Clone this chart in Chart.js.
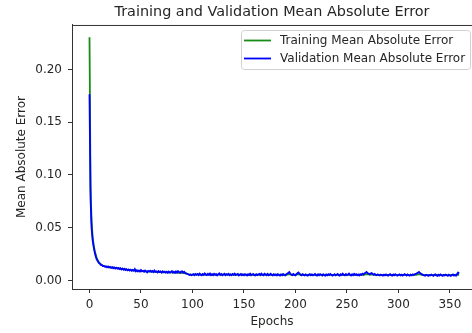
<!DOCTYPE html>
<html>
<head>
<meta charset="utf-8">
<script src="https://cdn.jsdelivr.net/npm/chart.js@4.4.1/dist/chart.umd.min.js"></script>
<style>
  html, body { margin:0; padding:0; background:#fff; }
  #c { display:block; }
</style>
</head>
<body>
<canvas id="c" width="472" height="333"></canvas>
<script>
// --- Données ---
const trainMae = [
  0.2305, 0.0900, 0.0560, 0.0420, 0.0340, 0.0285, 0.0245, 0.0215, 0.0192, 0.0175, 0.0163, 0.0154, 0.0147, 0.0141, 0.0137,
  0.0134, 0.0131, 0.0129, 0.0127, 0.0125, 0.0124, 0.0122, 0.0121, 0.0123, 0.0119, 0.0118, 0.0116, 0.0115, 0.0114, 0.0112,
  0.0111, 0.0109, 0.0108, 0.0107, 0.0105, 0.0104, 0.0103, 0.0101, 0.0100, 0.0099, 0.0098, 0.0097, 0.0096, 0.0095, 0.0094,
  0.0093, 0.0092, 0.0091, 0.0091, 0.0090, 0.0089, 0.0088, 0.0088, 0.0087, 0.0087, 0.0086, 0.0085, 0.0085, 0.0084, 0.0084,
  0.0083, 0.0083, 0.0082, 0.0082, 0.0081, 0.0081, 0.0080, 0.0080, 0.0079, 0.0079, 0.0079, 0.0078, 0.0078, 0.0077, 0.0077,
  0.0077, 0.0076, 0.0076, 0.0076, 0.0075, 0.0079, 0.0075, 0.0075, 0.0074, 0.0074, 0.0074, 0.0073, 0.0073, 0.0073, 0.0072,
  0.0072, 0.0071, 0.0070, 0.0068, 0.0065, 0.0062, 0.0059, 0.0057, 0.0056, 0.0055, 0.0055, 0.0055, 0.0055, 0.0056, 0.0055,
  0.0056, 0.0055, 0.0056, 0.0055, 0.0055, 0.0056, 0.0055, 0.0056, 0.0056, 0.0055, 0.0056, 0.0055, 0.0056, 0.0055, 0.0056,
  0.0055, 0.0056, 0.0055, 0.0056, 0.0055, 0.0055, 0.0056, 0.0055, 0.0055, 0.0056, 0.0055, 0.0055, 0.0054, 0.0055, 0.0055,
  0.0056, 0.0055, 0.0055, 0.0054, 0.0055, 0.0055, 0.0054, 0.0055, 0.0055, 0.0054, 0.0055, 0.0054, 0.0055, 0.0055, 0.0054,
  0.0055, 0.0054, 0.0054, 0.0055, 0.0054, 0.0055, 0.0054, 0.0054, 0.0055, 0.0054, 0.0054, 0.0055, 0.0054, 0.0054, 0.0055,
  0.0054, 0.0054, 0.0055, 0.0054, 0.0054, 0.0055, 0.0054, 0.0054, 0.0054, 0.0055, 0.0054, 0.0054, 0.0053, 0.0054, 0.0054,
  0.0054, 0.0053, 0.0054, 0.0054, 0.0053, 0.0054, 0.0054, 0.0053, 0.0054, 0.0054, 0.0053, 0.0054, 0.0055, 0.0057, 0.0058,
  0.0057, 0.0055, 0.0054, 0.0054, 0.0053, 0.0054, 0.0055, 0.0057, 0.0058, 0.0056, 0.0054, 0.0054, 0.0053, 0.0054, 0.0053,
  0.0054, 0.0053, 0.0053, 0.0054, 0.0053, 0.0053, 0.0054, 0.0053, 0.0053, 0.0054, 0.0053, 0.0053, 0.0054, 0.0053, 0.0053,
  0.0054, 0.0053, 0.0053, 0.0053, 0.0054, 0.0053, 0.0053, 0.0053, 0.0054, 0.0053, 0.0053, 0.0052, 0.0053, 0.0053, 0.0053,
  0.0052, 0.0053, 0.0053, 0.0052, 0.0053, 0.0053, 0.0053, 0.0052, 0.0053, 0.0053, 0.0052, 0.0053, 0.0054, 0.0053, 0.0052,
  0.0053, 0.0053, 0.0052, 0.0053, 0.0053, 0.0052, 0.0053, 0.0053, 0.0052, 0.0053, 0.0053, 0.0054, 0.0055, 0.0057, 0.0059,
  0.0058, 0.0057, 0.0056, 0.0056, 0.0057, 0.0055, 0.0054, 0.0054, 0.0053, 0.0053, 0.0053, 0.0052, 0.0053, 0.0053, 0.0052,
  0.0053, 0.0052, 0.0052, 0.0053, 0.0052, 0.0052, 0.0053, 0.0052, 0.0052, 0.0052, 0.0053, 0.0052, 0.0052, 0.0052, 0.0051,
  0.0052, 0.0052, 0.0052, 0.0051, 0.0052, 0.0052, 0.0052, 0.0051, 0.0052, 0.0052, 0.0051, 0.0052, 0.0052, 0.0051, 0.0052,
  0.0052, 0.0052, 0.0053, 0.0055, 0.0057, 0.0059, 0.0057, 0.0055, 0.0054, 0.0053, 0.0052, 0.0052, 0.0051, 0.0052, 0.0051,
  0.0051, 0.0052, 0.0051, 0.0051, 0.0052, 0.0051, 0.0051, 0.0051, 0.0052, 0.0051, 0.0051, 0.0051, 0.0050, 0.0051, 0.0051,
  0.0051, 0.0050, 0.0051, 0.0051, 0.0050, 0.0051, 0.0051, 0.0050, 0.0051, 0.0050, 0.0051, 0.0050, 0.0052, 0.0055, 0.0054
];
const valMae = [
  0.1765, 0.0780, 0.0500, 0.0385, 0.0320, 0.0270, 0.0230, 0.0200, 0.0184, 0.0166, 0.0160, 0.0148, 0.0146, 0.0136, 0.0138,
  0.0130, 0.0134, 0.0125, 0.0132, 0.0123, 0.0128, 0.0119, 0.0126, 0.0116, 0.0124, 0.0113, 0.0121, 0.0112, 0.0119, 0.0108,
  0.0116, 0.0105, 0.0113, 0.0101, 0.0110, 0.0099, 0.0107, 0.0096, 0.0104, 0.0094, 0.0101, 0.0091, 0.0100, 0.0093, 0.0108,
  0.0088, 0.0097, 0.0086, 0.0095, 0.0084, 0.0099, 0.0087, 0.0092, 0.0083, 0.0094, 0.0086, 0.0076, 0.0091, 0.0085, 0.0093,
  0.0082, 0.0090, 0.0080, 0.0094, 0.0081, 0.0087, 0.0077, 0.0089, 0.0079, 0.0085, 0.0075, 0.0087, 0.0078, 0.0083, 0.0074,
  0.0082, 0.0073, 0.0084, 0.0075, 0.0080, 0.0089, 0.0074, 0.0083, 0.0072, 0.0086, 0.0075, 0.0088, 0.0079, 0.0073, 0.0084,
  0.0087, 0.0074, 0.0082, 0.0070, 0.0068, 0.0061, 0.0059, 0.0052, 0.0056, 0.0049, 0.0054, 0.0060, 0.0050, 0.0061, 0.0053,
  0.0062, 0.0051, 0.0064, 0.0055, 0.0049, 0.0061, 0.0052, 0.0066, 0.0055, 0.0050, 0.0062, 0.0053, 0.0065, 0.0051, 0.0059,
  0.0050, 0.0063, 0.0054, 0.0060, 0.0048, 0.0058, 0.0067, 0.0052, 0.0061, 0.0049, 0.0057, 0.0064, 0.0050, 0.0060, 0.0053,
  0.0062, 0.0050, 0.0058, 0.0049, 0.0061, 0.0053, 0.0064, 0.0051, 0.0057, 0.0062, 0.0048, 0.0055, 0.0061, 0.0050, 0.0058,
  0.0049, 0.0060, 0.0054, 0.0047, 0.0059, 0.0051, 0.0063, 0.0049, 0.0056, 0.0061, 0.0050, 0.0047, 0.0059, 0.0050, 0.0057,
  0.0062, 0.0051, 0.0065, 0.0054, 0.0049, 0.0063, 0.0057, 0.0050, 0.0062, 0.0049, 0.0055, 0.0063, 0.0051, 0.0047, 0.0058,
  0.0050, 0.0057, 0.0048, 0.0059, 0.0052, 0.0046, 0.0057, 0.0050, 0.0061, 0.0051, 0.0047, 0.0058, 0.0063, 0.0071, 0.0079,
  0.0066, 0.0054, 0.0050, 0.0061, 0.0052, 0.0048, 0.0059, 0.0068, 0.0076, 0.0064, 0.0054, 0.0049, 0.0060, 0.0052, 0.0047,
  0.0057, 0.0050, 0.0046, 0.0055, 0.0060, 0.0049, 0.0057, 0.0048, 0.0054, 0.0062, 0.0050, 0.0046, 0.0058, 0.0050, 0.0060,
  0.0053, 0.0047, 0.0058, 0.0050, 0.0045, 0.0056, 0.0049, 0.0059, 0.0051, 0.0061, 0.0053, 0.0046, 0.0051, 0.0059, 0.0048,
  0.0055, 0.0061, 0.0050, 0.0046, 0.0058, 0.0051, 0.0064, 0.0054, 0.0048, 0.0060, 0.0050, 0.0057, 0.0066, 0.0053, 0.0047,
  0.0058, 0.0050, 0.0062, 0.0053, 0.0059, 0.0049, 0.0057, 0.0048, 0.0060, 0.0053, 0.0064, 0.0056, 0.0066, 0.0072, 0.0080,
  0.0071, 0.0065, 0.0058, 0.0066, 0.0070, 0.0061, 0.0055, 0.0062, 0.0053, 0.0049, 0.0058, 0.0052, 0.0047, 0.0056, 0.0050,
  0.0046, 0.0055, 0.0049, 0.0058, 0.0050, 0.0045, 0.0054, 0.0060, 0.0050, 0.0046, 0.0056, 0.0049, 0.0059, 0.0051, 0.0045,
  0.0052, 0.0058, 0.0048, 0.0055, 0.0046, 0.0051, 0.0060, 0.0054, 0.0047, 0.0057, 0.0050, 0.0045, 0.0055, 0.0048, 0.0058,
  0.0051, 0.0060, 0.0062, 0.0069, 0.0074, 0.0081, 0.0070, 0.0064, 0.0057, 0.0053, 0.0048, 0.0045, 0.0054, 0.0049, 0.0044,
  0.0052, 0.0047, 0.0056, 0.0049, 0.0044, 0.0053, 0.0058, 0.0048, 0.0044, 0.0054, 0.0047, 0.0057, 0.0050, 0.0044, 0.0053,
  0.0047, 0.0056, 0.0049, 0.0044, 0.0054, 0.0048, 0.0043, 0.0051, 0.0057, 0.0047, 0.0053, 0.0045, 0.0060, 0.0074, 0.0066
];
const epochs = trainMae.map((_, i) => i);
const xTicks = [0, 50, 100, 150, 200, 250, 300, 350];
const yTicks = [0, 0.05, 0.10, 0.15, 0.20];
const seriesLabels = ['Training Mean Absolute Error', 'Validation Mean Absolute Error'];

const FONT = 'DejaVu Sans';
const TXT = '#262626';

// cadre (haut) + légende dessinés à la main, style matplotlib
const framePlugin = {
  id: 'frame',
  afterDraw(chart) {
    const { ctx, chartArea: a } = chart;
    ctx.save();
    ctx.strokeStyle = '#333';
    ctx.lineWidth = 1;
    ctx.beginPath();
    ctx.moveTo(a.left, a.top + 0.5);
    ctx.lineTo(a.right, a.top + 0.5);
    ctx.stroke();

    // légende
    const lx = 241.5, ly = 30.5, lw = 229, lh = 39, r = 3;
    ctx.fillStyle = 'rgba(255,255,255,0.8)';
    ctx.strokeStyle = '#d0d0d0';
    ctx.beginPath();
    ctx.roundRect(lx, ly, lw, lh, r);
    ctx.fill();
    ctx.stroke();
    ctx.font = '12px ' + FONT;
    ctx.textBaseline = 'middle';
    ctx.fillStyle = TXT;
    chart.data.datasets.forEach((ds, i) => {
      const y = 40.5 + i * 18;
      ctx.strokeStyle = ds.borderColor;
      ctx.lineWidth = 1.8;
      ctx.beginPath();
      ctx.moveTo(244, y);
      ctx.lineTo(271, y);
      ctx.stroke();
      ctx.fillText(ds.label, 280, y + 0.5);
    });
    ctx.restore();
  }
};

new Chart(document.getElementById('c'), {
  type: 'line',
  data: {
    datasets: [
      { label: seriesLabels[0], data: epochs.map((e, i) => ({ x: e, y: trainMae[i] })), borderColor: '#178c17', borderWidth: 1.8, pointRadius: 0, tension: 0, order: 2 },
      { label: seriesLabels[1], data: epochs.map((e, i) => ({ x: e, y: valMae[i] })), borderColor: '#0000ff', borderWidth: 1.8, pointRadius: 0, tension: 0, order: 1 }
    ]
  },
  options: {
    responsive: false,
    animation: false,
    events: [],
    layout: { padding: 0 },
    plugins: {
      legend: { display: false },
      tooltip: { enabled: false },
      title: {
        display: true, text: 'Training and Validation Mean Absolute Error',
        fullSize: false, color: TXT, font: { family: FONT, size: 14.4, weight: 'normal' },
        padding: { top: 3.5, bottom: 4.2 }
      }
    },
    scales: {
      x: {
        type: 'linear', min: -17, max: 371.5,
        afterBuildTicks: s => { s.ticks = xTicks.map(v => ({ value: v })); },
        afterFit: s => { s.height = 44; },
        grid: { drawOnChartArea: false, tickLength: 4, color: '#333' },
        border: { color: '#333', width: 1 },
        ticks: { color: TXT, font: { family: FONT, size: 12 }, padding: 5, maxRotation: 0, callback: v => String(v) },
        title: { display: true, text: 'Epochs', color: TXT, font: { family: FONT, size: 12 }, padding: { top: 0, bottom: 3.5 } }
      },
      y: {
        type: 'linear', min: -0.0081, max: 0.2422,
        afterBuildTicks: s => { s.ticks = yTicks.map(v => ({ value: v })); },
        afterFit: s => { s.width = 72; },
        grid: { drawOnChartArea: false, tickLength: 4, color: '#333' },
        border: { color: '#333', width: 1 },
        ticks: { color: TXT, font: { family: FONT, size: 12 }, padding: 6, callback: v => v.toFixed(2) },
        title: { display: true, text: 'Mean Absolute Error', color: TXT, font: { family: FONT, size: 12 }, padding: { top: 15, bottom: 0 } }
      }
    }
  },
  plugins: [framePlugin]
});
</script>
</body>
</html>
